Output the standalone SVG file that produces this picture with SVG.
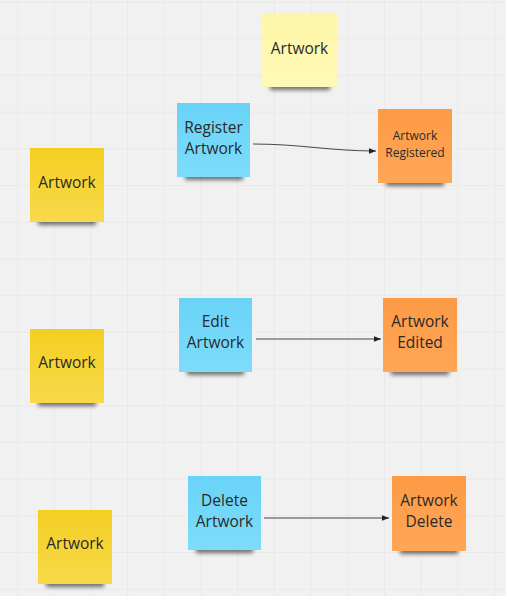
<svg xmlns="http://www.w3.org/2000/svg" width="506" height="596" viewBox="0 0 506 596">
<defs>
<pattern id="grid" patternUnits="userSpaceOnUse" x="17" y="1.5" width="36.7" height="36.7">
<path d="M0,0 H36.7 M0,0 V36.7" stroke="#e2e2e2" stroke-width="1" fill="none"/>
</pattern>
<filter id="blur" x="-20%" y="-100%" width="140%" height="300%">
<feGaussianBlur stdDeviation="2.2"/>
</filter>
<linearGradient id="gy" x1="0" y1="0" x2="0" y2="1"><stop offset="0" stop-color="#f4cf22"/><stop offset="1" stop-color="#f7d94a"/></linearGradient>
<linearGradient id="gb" x1="0" y1="0" x2="0" y2="1"><stop offset="0" stop-color="#69d3f7"/><stop offset="1" stop-color="#7ddcfa"/></linearGradient>
<linearGradient id="go" x1="0" y1="0" x2="0" y2="1"><stop offset="0" stop-color="#fd9a45"/><stop offset="1" stop-color="#ffa757"/></linearGradient>
<linearGradient id="gp" x1="0" y1="0" x2="0" y2="1"><stop offset="0" stop-color="#fef6a6"/><stop offset="1" stop-color="#fff9b8"/></linearGradient>
<marker id="arr" viewBox="0 0 10 10" refX="10" refY="5" markerWidth="7" markerHeight="7" markerUnits="userSpaceOnUse" orient="auto">
<path d="M0,1 L10,5 L0,9 z" fill="#222"/>
</marker>
</defs>
<style>
.sh{fill:#000;opacity:0.55;filter:url(#blur)}
.t{font-family:"Open Sans","Liberation Sans",sans-serif;font-size:15.5px;fill:#2a2a2a;text-anchor:middle}
.s{font-family:"Open Sans","Liberation Sans",sans-serif;font-size:12px;fill:#2a2a2a;text-anchor:middle}
.c{fill:none;stroke:#333;stroke-width:0.9;marker-end:url(#arr)}
</style>
<rect width="506" height="596" fill="#f1f1f1"/>
<rect width="506" height="596" fill="url(#grid)"/>

<g id="connectors">
<path class="c" d="M253,144 C300,144 330,151 376,151"/>
<path class="c" d="M256,339 L381,339"/>
<path class="c" d="M264,518 L389,518"/>
</g>

<g id="artwork-top">
<rect class="sh" x="270" y="83" width="60" height="7"/>
<rect x="262" y="14" width="75" height="73" fill="url(#gp)"/>
<text class="t" x="299.5" y="54">Artwork</text>
</g>

<g id="register-artwork">
<rect class="sh" x="185" y="173" width="58" height="7"/>
<rect x="177" y="103" width="73" height="74" fill="url(#gb)"/>
<text class="t" x="213.5" y="133">Register</text>
<text class="t" x="213.5" y="154">Artwork</text>
</g>

<g id="artwork-registered">
<rect class="sh" x="386" y="179" width="58" height="7"/>
<rect x="378" y="109" width="74" height="74" fill="url(#go)"/>
<text class="s" x="415" y="140">Artwork</text>
<text class="s" x="415" y="157">Registered</text>
</g>

<g id="artwork-1">
<rect class="sh" x="38" y="218" width="58" height="7"/>
<rect x="30" y="148" width="74" height="74" fill="url(#gy)"/>
<text class="t" x="67" y="188">Artwork</text>
</g>

<g id="edit-artwork">
<rect class="sh" x="187" y="368" width="57" height="7"/>
<rect x="179" y="298" width="73" height="74" fill="url(#gb)"/>
<text class="t" x="215.5" y="327">Edit</text>
<text class="t" x="215.5" y="348">Artwork</text>
</g>

<g id="artwork-edited">
<rect class="sh" x="391" y="368" width="58" height="7"/>
<rect x="383" y="298" width="74" height="74" fill="url(#go)"/>
<text class="t" x="420" y="327">Artwork</text>
<text class="t" x="420" y="348">Edited</text>
</g>

<g id="artwork-2">
<rect class="sh" x="38" y="399" width="58" height="7"/>
<rect x="30" y="329" width="74" height="74" fill="url(#gy)"/>
<text class="t" x="67" y="368">Artwork</text>
</g>

<g id="delete-artwork">
<rect class="sh" x="196" y="546" width="57" height="7"/>
<rect x="188" y="476" width="73" height="74" fill="url(#gb)"/>
<text class="t" x="224.5" y="506">Delete</text>
<text class="t" x="224.5" y="527">Artwork</text>
</g>

<g id="artwork-delete">
<rect class="sh" x="400" y="547" width="58" height="7"/>
<rect x="392" y="476" width="74" height="75" fill="url(#go)"/>
<text class="t" x="429" y="506">Artwork</text>
<text class="t" x="429" y="527">Delete</text>
</g>

<g id="artwork-3">
<rect class="sh" x="46" y="580" width="58" height="7"/>
<rect x="38" y="510" width="74" height="74" fill="url(#gy)"/>
<text class="t" x="75" y="549">Artwork</text>
</g>
</svg>
